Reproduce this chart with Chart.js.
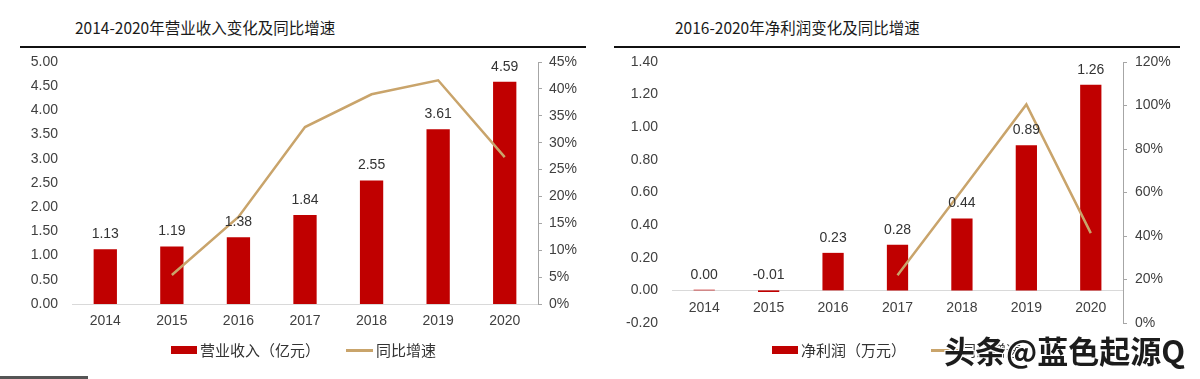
<!DOCTYPE html>
<html lang="zh-CN">
<head>
<meta charset="utf-8">
<title>营业收入与净利润变化</title>
<script src="https://cdn.jsdelivr.net/npm/chart.js@4.4.0/dist/chart.umd.min.js"></script>
<style>
  html, body { margin: 0; padding: 0; background: #fff; }
  body { width: 1200px; height: 379px; position: relative; overflow: hidden;
         font-family: "Liberation Sans", Arial, "Noto Sans CJK SC", sans-serif; color: #404040; }
  .title { position: absolute; top: 16px; font-family: "Noto Sans CJK SC", sans-serif;
           font-size: 15.5px; font-weight: 400; color: #1a1a1a; white-space: nowrap; }
  .rule { position: absolute; top: 46px; height: 2px; background: #111; }
  canvas { position: absolute; top: 50px; }
  .legend { position: absolute; top: 340px; height: 20px; font-family: "Noto Sans CJK SC", sans-serif;
            font-size: 15px; color: #333; white-space: nowrap; }
  .legend span { position: absolute; top: 0; line-height: 20px; }
  .sw-bar { position: absolute; top: 6px; width: 26px; height: 8px; background: #C00000; }
  .sw-line { position: absolute; top: 9px; width: 27px; height: 3px; background: #C9A46B; }
  .mark { position: absolute; left: 944px; top: 330px; font-family: "Noto Sans CJK SC", sans-serif;
          font-size: 31px; font-weight: 700; color: #1c1c1c; white-space: nowrap; line-height: 40px;
          text-shadow: 0 0 2px #fff, 1px 1px 0 #fff, -1px -1px 0 #fff, 1px -1px 0 #fff, -1px 1px 0 #fff; }
  .foot { position: absolute; left: 0; top: 376px; width: 88px; height: 3px; background: #555; }
</style>
</head>
<body>

<div class="title" style="left:75px">2014-2020年营业收入变化及同比增速</div>
<div class="rule" style="left:20px; width:566px"></div>
<div class="title" style="left:675px">2016-2020年净利润变化及同比增速</div>
<div class="rule" style="left:614px; width:566px"></div>

<canvas id="revenue" width="600" height="290" style="left:0"></canvas>
<canvas id="profit" width="600" height="290" style="left:600px"></canvas>

<div class="legend" style="left:0; width:600px">
  <div class="sw-bar" style="left:171px"></div><span style="left:200px">营业收入（亿元）</span>
  <div class="sw-line" style="left:346px"></div><span style="left:376px">同比增速</span>
</div>
<div class="legend" style="left:600px; width:600px">
  <div class="sw-bar" style="left:172px"></div><span style="left:201px">净利润（万元）</span>
  <div class="sw-line" style="left:331px"></div><span style="left:361px">同比增速</span>
</div>
<div class="mark">头条@蓝色起源Q</div>
<div class="foot"></div>

<script>
// ---- data ----
const years = ['2014', '2015', '2016', '2017', '2018', '2019', '2020'];

const revenue = [1.13, 1.19, 1.38, 1.84, 2.55, 3.61, 4.59];          // 亿元
const revenueGrowth = [null, 5.4, 16.2, 32.9, 39.0, 41.6, 27.3];     // %

const profit = [0.004, -0.01, 0.23, 0.28, 0.44, 0.89, 1.26];         // 万元
const profitGrowth = [null, null, null, 22.0, 61.0, 100.5, 41.3];    // %

const revenueTicks = { min: 0, max: 5, step: 0.5 };
const revenueGrowthTicks = { min: 0, max: 45, step: 5 };
const profitTicks = { min: -0.2, max: 1.4, step: 0.2 };
const profitGrowthTicks = { min: 0, max: 120, step: 20 };

// ---- shared look ----
const RED = '#C00000';
const TAN = '#C9A46B';
const AXIS = '#A6A6A6';
const TEXT = '#404040';
const FONT = { family: "'Liberation Sans', Arial, sans-serif", size: 14 };

// values above each bar
const barLabels = {
  id: 'barLabels',
  afterDatasetsDraw(chart) {
    const meta = chart.getDatasetMeta(0);
    const ctx = chart.ctx;
    ctx.save();
    ctx.font = `${FONT.size}px ${FONT.family}`;
    ctx.fillStyle = '#333';
    ctx.textAlign = 'center';
    ctx.textBaseline = 'middle';
    meta.data.forEach((bar, i) => {
      const v = chart.data.datasets[0].data[i];
      const top = Math.min(bar.y, bar.base);
      ctx.fillText(v.toFixed(2), bar.x, top - 15);
    });
    ctx.restore();
  }
};

// fixed axis box: own width, no extra vertical padding from tick labels
const fixWidth = (w) => (s) => {
  s.width = w;
  s.paddingTop = 0;
  s.paddingBottom = 0;
};

function makeChart(id, bars, growth, leftTicks, rightTicks, opts) {
  const ctx = document.getElementById(id).getContext('2d');
  return new Chart(ctx, {
    type: 'bar',
    data: {
      labels: years,
      datasets: [
        {
          type: 'bar',
          data: bars,
          backgroundColor: RED,
          barPercentage: opts.barPct,
          categoryPercentage: 1,
          yAxisID: 'y',
          order: 1
        },
        {
          type: 'line',
          data: growth,
          borderColor: TAN,
          borderWidth: 2.5,
          pointRadius: 0,
          tension: 0,
          yAxisID: 'y1',
          order: 0
        }
      ]
    },
    options: {
      responsive: false,
      animation: false,
      events: [],
      layout: { padding: { top: 12, bottom: opts.bottomPad, left: 0, right: 0 } },
      plugins: { legend: { display: false }, tooltip: { enabled: false } },
      scales: {
        x: {
          position: opts.xPosition,
          grid: { display: false, drawTicks: false },
          border: { display: true, color: '#D9D9D9', width: 1 },
          ticks: { font: FONT, color: TEXT, padding: opts.xPad },
          afterFit: (s) => { s.height = opts.xHeight; }
        },
        y: {
          position: 'left',
          min: leftTicks.min, max: leftTicks.max,
          grid: { display: false, drawTicks: false },
          border: { display: false },
          ticks: {
            stepSize: leftTicks.step, font: FONT, color: TEXT, padding: 14,
            callback: (v) => (Math.abs(v) < 1e-9 ? 0 : v).toFixed(2)
          },
          afterFit: fixWidth(72)
        },
        y1: {
          position: 'right',
          min: rightTicks.min, max: rightTicks.max,
          grid: { drawOnChartArea: false, drawTicks: true, tickLength: 4, color: AXIS },
          border: { display: true, color: AXIS, width: 1 },
          ticks: {
            stepSize: rightTicks.step, font: FONT, color: TEXT, padding: opts.rightPad,
            callback: (v) => Math.round(v) + '%'
          },
          afterFit: fixWidth(opts.rightWidth)
        }
      }
    },
    plugins: [barLabels]
  });
}

makeChart('revenue', revenue, revenueGrowth, revenueTicks, revenueGrowthTicks, {
  barPct: 0.35, xPosition: 'bottom', xPad: 9, xHeight: 36, bottomPad: 0,
  rightWidth: 62, rightPad: 7
});

makeChart('profit', profit, profitGrowth, profitTicks, profitGrowthTicks, {
  barPct: 0.33, xPosition: { y: 0 }, xPad: 9, xHeight: 20, bottomPad: 17,
  rightWidth: 77, rightPad: 8
});
</script>
</body>
</html>
